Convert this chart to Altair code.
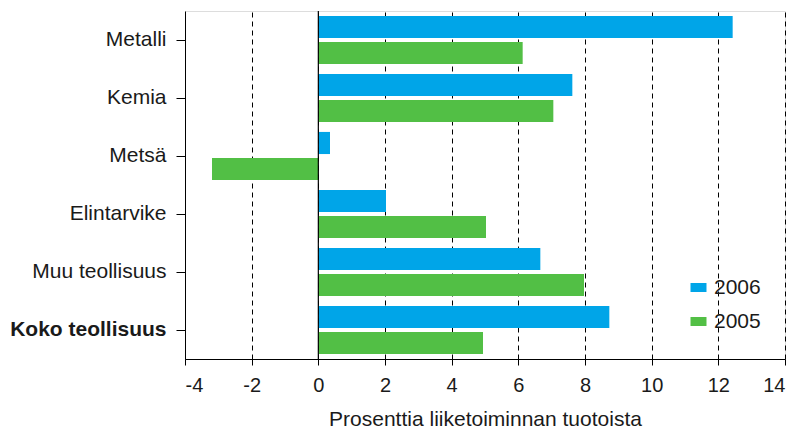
import altair as alt
import pandas as pd

categories = ["Metalli", "Kemia", "Metsä", "Elintarvike", "Muu teollisuus", "Koko teollisuus"]
series = ["2006", "2005"]
v2006 = [12.43, 7.62, 0.35, 2.03, 6.66, 8.73]
v2005 = [6.13, 7.05, -3.19, 5.03, 7.97, 4.94]
colors = ["#00A5E8", "#52BF45"]
x_ticks = [-4, -2, 0, 2, 4, 6, 8, 10, 12, 14]

rows = []
for c, a, b in zip(categories, v2006, v2005):
    rows.append({"category": c, "series": "2006", "value": a})
    rows.append({"category": c, "series": "2005", "value": b})
df = pd.DataFrame(rows)

FONT = "Liberation Sans"

bars = alt.Chart(df).mark_bar().encode(
    y=alt.Y("category:N", sort=categories,
            scale=alt.Scale(paddingInner=0.17, paddingOuter=0.085),
            axis=alt.Axis(title=None, labelFontSize=21, labelFont=FONT, labelColor="#1a1a1a",
                          labelFontWeight=alt.ExprRef("datum.label == 'Koko teollisuus' ? 'bold' : 'normal'"),
                          tickSize=9, tickColor="black", domainColor="black", labelPadding=10,
                          labelLimit=300, grid=False)),
    yOffset=alt.YOffset("series:N", sort=series, scale=alt.Scale(paddingInner=0.15, paddingOuter=0)),
    x=alt.X("value:Q", scale=alt.Scale(domain=[-4, 14], nice=False),
            axis=alt.Axis(title="Prosenttia  liiketoiminnan tuotoista", values=x_ticks,
                          labelExpr="toString(datum.value)",
                          labelFontSize=20, labelFont=FONT, labelColor="#1a1a1a",
                          titleFontSize=21, titleFont=FONT, titleFontWeight="normal", titleColor="#1a1a1a",
                          titlePadding=13, labelPadding=10,
                          tickSize=6, tickColor="black", domainColor="black",
                          grid=True, gridColor="black", gridDash=[5, 4], gridWidth=1)),
    color=alt.Color("series:N", sort=series, scale=alt.Scale(domain=series, range=colors),
                    legend=alt.Legend(title=None, orient="none", legendX=503, legendY=266,
                                      labelFontSize=21, labelFont=FONT, labelColor="#1a1a1a",
                                      symbolType="M-1,-0.56H1V0.56H-1Z", symbolSize=256,
                                      symbolStrokeWidth=0, labelOffset=5, rowPadding=12)),
)

zero_df = pd.DataFrame({"x": [0]})
zero = alt.Chart(zero_df).mark_rule(color="black", strokeWidth=1.2).encode(x="x:Q")

chart = alt.layer(bars, zero).properties(
    width=600, height=348,
    autosize=alt.AutoSizeParams(type="none"),
    padding={"left": 177, "top": 3, "right": 5, "bottom": 70},
).configure_view(stroke="black", strokeWidth=1).configure(background="white")

chart.save("out.html", embed_options={"renderer": "svg", "actions": False})
